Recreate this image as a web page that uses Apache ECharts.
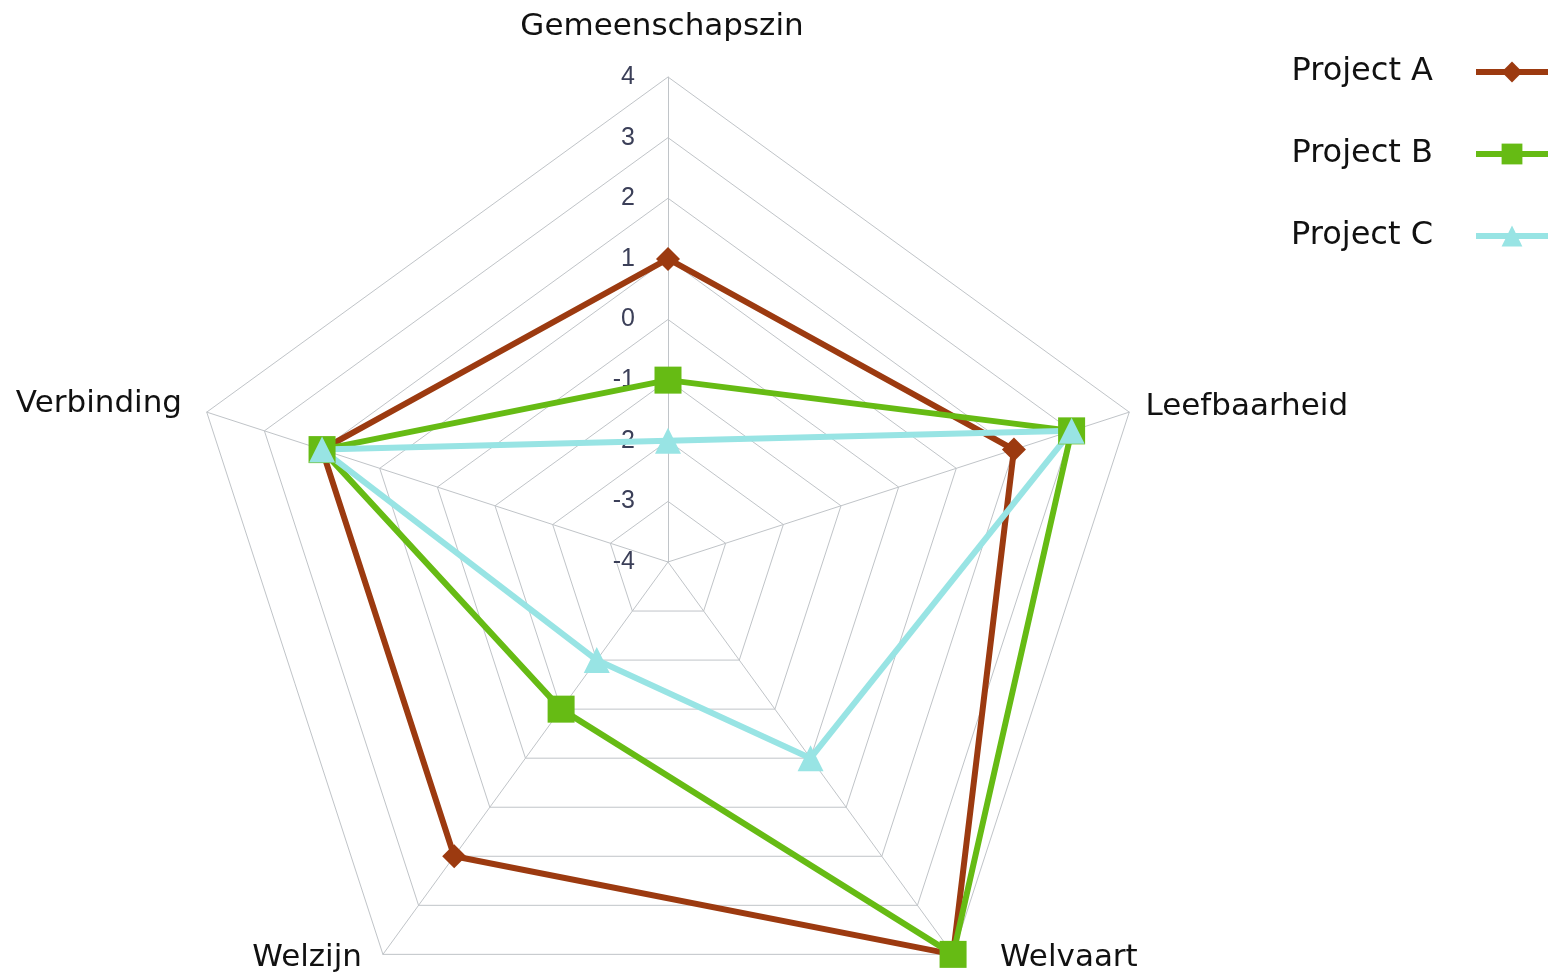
<!DOCTYPE html>
<html>
<head>
<meta charset="utf-8">
<script src="https://cdn.jsdelivr.net/npm/echarts@6/dist/echarts.min.js"></script>
<style>
  html, body { margin: 0; padding: 0; background: #fff; }
  #chart { width: 1553px; height: 976px; }
</style>
</head>
<body>
<div id="chart"></div>
<script>
// ---- data (in the order ECharts draws the axes: top, then counter-clockwise) ----
const indicators = ['Gemeenschapszin', 'Verbinding', 'Welzijn', 'Welvaart', 'Leefbaarheid'];
const axisMin = -4;
const axisMax = 4;
const seriesNames = ['Project A', 'Project B', 'Project C'];
const projectA = [1, 2, 2, 4, 2];
const projectB = [-1, 2, -1, 4, 3];
const projectC = [-2, 2, -2, 0, 3];

// ---- styles ----
const colors = ['#9C3A10', '#66BB14', '#98E4E4'];
const symbols = ['diamond', 'rect', 'triangle'];
const symbolSizes = [24, 27, 26];
const nameGaps = [35, 26, 5, 5, 17];
const namePads = [[0, 12, 0, 0], [12, 0, 0, 0], [0, 18, 0, 0], [0, 0, 0, 44], [30, 0, 0, 0]];
const values = [projectA, projectB, projectC];

const chart = echarts.init(document.getElementById('chart'));

const indicatorOpts = indicators.map((n, i) => {
  const o = {
    name: n, min: axisMin, max: axisMax,
    nameGap: nameGaps[i],
    nameTextStyle: { padding: namePads[i] }
  };
  if (i !== 0) o.axisLabel = { show: false };
  return o;
});

const gridColor = '#C0C4C8';

const option = {
  backgroundColor: '#ffffff',
  animation: false,
  grid: { show: false, left: 0, top: 0, width: 1, height: 1 },
  xAxis: { show: false, type: 'value' },
  yAxis: { show: false, type: 'value' },
  legend: {
    data: seriesNames,
    orient: 'vertical',
    right: 2,
    top: 56,
    padding: 0,
    align: 'right',
    itemWidth: 72,
    itemHeight: 26,
    itemGap: 50,
    lineStyle: { width: 6 },
    textStyle: {
      fontFamily: 'DejaVu Sans',
      fontSize: 32,
      lineHeight: 32,
      color: '#111111',
      padding: [0, 38, 0, 0]
    }
  },
  radar: {
    center: [668, 562],
    radius: 485,
    startAngle: 90,
    shape: 'polygon',
    splitNumber: 8,
    indicator: indicatorOpts,
    axisName: {
      color: '#111111',
      fontFamily: 'DejaVu Sans',
      fontSize: 31
    },
    axisLabel: {
      show: true,
      margin: 33,
      color: '#3b3f58',
      fontFamily: 'Liberation Sans',
      fontSize: 25,
      showMinLabel: true,
      showMaxLabel: true
    },
    axisTick: { show: false },
    axisLine: { lineStyle: { color: gridColor, width: 1 } },
    splitLine: { lineStyle: { color: gridColor, width: 1 } },
    splitArea: { show: false }
  },
  series: [
    {
      type: 'radar',
      name: 'Projects',
      data: values.map((v, i) => ({
        name: seriesNames[i],
        value: v,
        symbol: symbols[i],
        symbolSize: symbolSizes[i],
        itemStyle: { color: colors[i] },
        lineStyle: { color: colors[i], width: 6 }
      }))
    }
  ].concat(seriesNames.map((n, i) => ({
    type: 'line',
    name: n,
    data: [],
    symbol: symbols[i],
    itemStyle: { color: colors[i] },
    lineStyle: { color: colors[i], width: 6 },
    silent: true
  })))
};

chart.setOption(option);
</script>
</body>
</html>
